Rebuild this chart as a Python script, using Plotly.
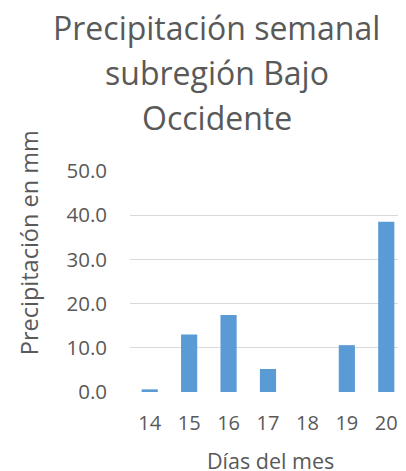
import plotly.graph_objects as go

dias = ["14", "15", "16", "17", "18", "19", "20"]
precip = [0.6, 13.0, 17.4, 5.2, 0.0, 10.6, 38.5]
y_ticks = [0, 10, 20, 30, 40, 50]
y_labels = ["0.0", "10.0", "20.0", "30.0", "40.0", "50.0"]
title_lines = ["Precipitación semanal", "subregión Bajo", "Occidente"]

gray = "#595959"
font = "Open Sans"

# the page body adds an 8px margin; work in screen pixels and convert
OFF = 8
VIS_R = 399          # right-most visible screen column
W, H = VIS_R - OFF, 471 - OFF
ML, MR, MT = 129.5 - OFF, 0, 171 - OFF
MB = H - (392 - OFF)
PH = H - MT - MB
PW = W - ML - MR
x_hi = -0.5 + PW / 39.5


def px_x(sx):
    return (sx - OFF - ML) / PW


def px_y(sy):
    return (H - MB - (sy - OFF)) / PH


fig = go.Figure(go.Bar(x=list(range(len(dias))), y=precip, marker_color="#5B9BD5",
                       marker_line_width=0, width=0.41))

ann = []
for i, t in enumerate(title_lines):
    ann.append(dict(text=t, xref="paper", yref="paper", x=px_x(216.5), y=px_y(27 + 45 * i),
                    xanchor="center", yanchor="middle", showarrow=False,
                    font=dict(size=32, color=gray, family=font)))
ann.append(dict(text="Precipitación en mm", xref="paper", yref="paper", x=px_x(28), y=px_y(242.5),
                xanchor="center", yanchor="middle", textangle=-90, showarrow=False,
                font=dict(size=23.5, color=gray, family=font)))
ann.append(dict(text="Días del mes", xref="paper", yref="paper", x=px_x(270), y=px_y(460),
                xanchor="center", yanchor="middle", showarrow=False,
                font=dict(size=21.5, color=gray, family=font)))

fig.update_layout(
    width=W, height=H,
    margin=dict(l=ML, r=MR, t=MT, b=MB, autoexpand=False),
    paper_bgcolor="white", plot_bgcolor="white",
    showlegend=False,
    font=dict(family=font, color=gray),
    xaxis=dict(tickvals=list(range(len(dias))), ticktext=dias, range=[-0.5, x_hi],
               showgrid=False, zeroline=False, showline=False, ticks="", automargin=False,
               tickfont=dict(size=20, color=gray), ticklabelstandoff=17),
    yaxis=dict(range=[0, 50], tickvals=y_ticks, ticktext=y_labels, automargin=False,
               showgrid=True, gridcolor="#D9D9D9", gridwidth=1.3, zeroline=False,
               showline=False, ticks="", tickfont=dict(size=20.5, color=gray),
               ticklabelstandoff=22),
    annotations=ann,
)

fig.write_html("out.html")
